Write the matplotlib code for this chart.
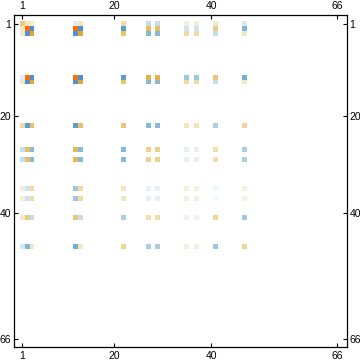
import numpy as np
import matplotlib
matplotlib.use("Agg")
import matplotlib.pyplot as plt
from matplotlib.colors import LinearSegmentedColormap, Normalize

plt.rcParams["font.family"] = ["Liberation Sans", "DejaVu Sans"]

size = 66
indices = [1, 2, 3, 12, 13, 22, 27, 29, 35, 37, 41, 47]
row_1  = [.45, .2, .15, -.15, .2, .3, -.3, -.3, .12, .12, .15, -.2]
row_2  = [.2, 1, -1, 1, -1, -.9, .6, .6, -.25, -.25, .45, -.6]
row_3  = [.15, -1, .8, -1, .8, .55, -.55, -.55, .3, .3, -.3, .2]
row_12 = [-.15, 1, -1, 1, -1, -.9, .7, .7, -.45, -.45, .5, -.7]
row_13 = [.2, -1, .8, -1, .8, .55, -.55, -.55, .3, .3, -.3, .18]
row_22 = [.3, -.9, .55, -.9, .55, .5, -.55, -.55, .2, .2, -.4, .35]
row_27 = [-.3, .6, -.55, .65, -.55, -.55, .4, .4, -.12, -.12, .25, -.4]
row_29 = [-.3, .6, -.55, .65, -.55, -.55, .4, .4, -.12, -.12, .25, -.4]
row_35 = [.12, -.25, .3, -.45, .3, .2, -.12, -.12, .12, .12, -.06, .1]
row_37 = [.12, -.25, .3, -.45, .3, .2, -.12, -.12, .12, .12, -.06, .1]
row_41 = [.15, .45, -.3, .5, -.3, -.4, .25, .3, -.1, -.1, .35, -.45]
row_47 = [-.2, -.6, .2, -.7, .18, .35, -.4, -.4, .12, .12, -.45, .35]
rows = [row_1, row_2, row_3, row_12, row_13, row_22, row_27, row_29,
        row_35, row_37, row_41, row_47]
tick_labels = [1, 20, 40, 66]

nodes = [(-1, "#4E90D9"), (-.9, "#5B9FD0"), (-.55, "#86BAD8"), (-.3, "#C3DEEE"),
         (-.12, "#E5F0F6"), (0, "#FFFFFF"), (.12, "#F4EFD8"), (.2, "#F3E5BC"),
         (.45, "#EBCB80"), (.6, "#E9BE60"), (.8, "#E5A52F"), (1, "#FF7000")]
cmap = LinearSegmentedColormap.from_list("tones", [((v + 1) / 2, c) for v, c in nodes], N=512)
norm = Normalize(-1, 1)

W, H = 360, 363
fig = plt.figure(figsize=(W / 100, H / 100), dpi=100)
L, R, T, B = 13.7, 346.7, 15.3, 347.0
ax = fig.add_axes([L / W, 1 - B / H, (R - L) / W, (B - T) / H])

x_edges = np.linspace(0.505, 66.39, size + 1)
y_edges = np.linspace(0.411, 66.41, size + 1)
for r, vals in zip(indices, rows):
    for c, v in zip(indices, vals):
        ax.bar(x_edges[c - 1], y_edges[r] - y_edges[r - 1], bottom=y_edges[r - 1],
               width=x_edges[c] - x_edges[c - 1], align="edge",
               color=cmap(norm(v)), linewidth=0)

ax.set_xlim(-0.775, 67.94)
ax.set_ylim(67.67, -0.86)
ax.set_xticks(tick_labels)
ax.set_yticks(tick_labels)
ax.set_xticklabels([str(t) for t in tick_labels])
ax.set_yticklabels([str(t) for t in tick_labels])
ax.tick_params(axis="both", direction="in", length=3.2, width=0.8, top=True, right=True,
               labeltop=True, labelright=True, labelsize=7.5, color="black")
ax.tick_params(axis="x", pad=3.2)
ax.tick_params(axis="y", pad=2)
for s in ax.spines.values():
    s.set_linewidth(0.9)
fig.savefig("out.png", dpi=100)
